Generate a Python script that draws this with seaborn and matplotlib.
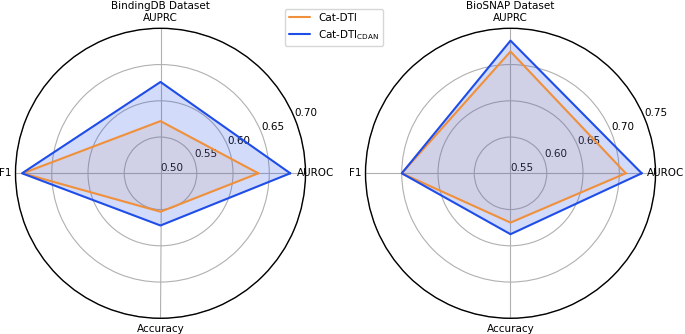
import numpy as np
import matplotlib.pyplot as plt
import seaborn as sns

sns.set_style("white")
plt.rcParams.update({
    'font.family': ['DejaVu Sans'],
    'font.size': 7.5,
    'text.color': 'black',
    'xtick.color': 'black',
    'ytick.color': 'black',
})

metrics = ['AUROC', 'AUPRC', 'F1', 'Accuracy']
model_names = ['Cat-DTI', 'Cat-DTI$_{\\mathrm{CDAN}}$']

bindingdb_catdti = [0.635, 0.572, 0.690, 0.553]
bindingdb_cdan = [0.679, 0.626, 0.691, 0.572]
biosnap_catdti = [0.709, 0.718, 0.700, 0.618]
biosnap_cdan = [0.731, 0.733, 0.700, 0.634]

bindingdb_ticks = [0.50, 0.55, 0.60, 0.65, 0.70]
biosnap_ticks = [0.55, 0.60, 0.65, 0.70, 0.75]

colors = ['#f0903a', '#1f4de8']
fill_alpha = [0.12, 0.2]

angles = np.linspace(0, 2 * np.pi, len(metrics), endpoint=False)
closed = np.append(angles, angles[0])

fig = plt.figure(figsize=(6.85, 3.34), dpi=100)
ax1 = fig.add_axes([15.5 / 685, 15.7 / 334, 290 / 685, 290 / 334], projection='polar')
ax2 = fig.add_axes([365.5 / 685, 15.7 / 334, 290 / 685, 290 / 334], projection='polar')


def radar(ax, series, ticks, title):
    for vals, c, a, name in zip(series, colors, fill_alpha, model_names):
        v = np.append(vals, vals[0])
        sns.lineplot(x=closed, y=v, ax=ax, color=c, lw=1.5, sort=False,
                     estimator=None, label=name, legend=False)
        ax.fill(closed, v, color=c, alpha=a, lw=0)
    ax.set_ylim(ticks[0], ticks[-1])
    ax.set_yticks(ticks)
    ax.set_yticklabels([f'{t:.2f}' for t in ticks], fontsize=7.5)
    ax.set_rlabel_position(22.5)
    ax.set_xticks(angles)
    ax.set_xticklabels(metrics, fontsize=7.5)
    ax.tick_params(axis='x', pad=-3)
    ax.grid(True, color='#b0b0b0', lw=0.8)
    ax.spines['polar'].set_color('black')
    ax.spines['polar'].set_linewidth(1.0)
    ax.set_xlabel('')
    ax.set_ylabel('')
    ax.text(0.5, 1.0655, title, transform=ax.transAxes, ha='center',
            va='baseline', fontsize=7.5)


radar(ax1, [bindingdb_catdti, bindingdb_cdan], bindingdb_ticks, 'BindingDB Dataset')
radar(ax2, [biosnap_catdti, biosnap_cdan], biosnap_ticks, 'BioSNAP Dataset')

handles, labels = ax1.get_legend_handles_labels()
fig.legend(handles, labels, loc='upper center', bbox_to_anchor=(0.4876, 0.99),
           fontsize=7.5, frameon=True, handlelength=2.0)

plt.savefig('out.png', dpi=100)
